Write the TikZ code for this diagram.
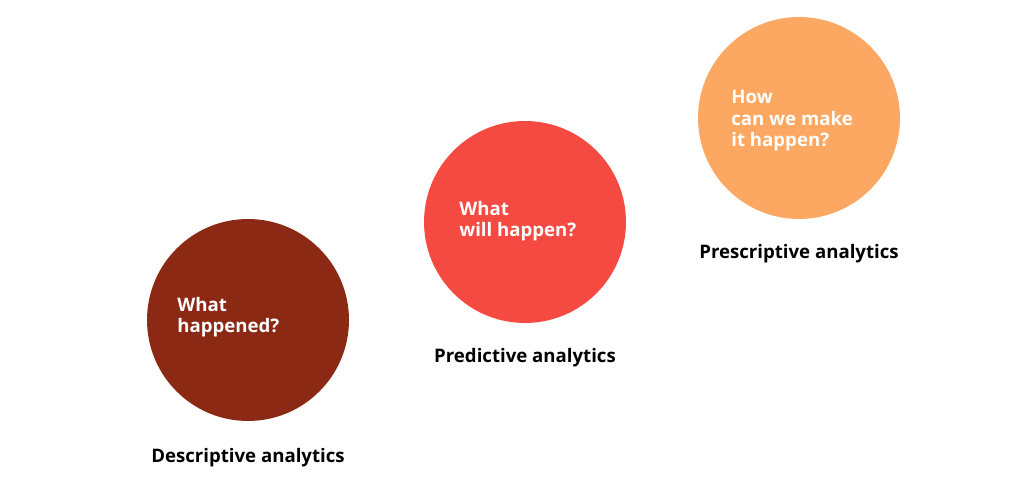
\documentclass[tikz,border=0pt]{standalone}
\usepackage{fontspec}
\setmainfont{Open Sans}
\usetikzlibrary{positioning}
\definecolor{descColor}{HTML}{8B2914}
\definecolor{predColor}{HTML}{F44A42}
\definecolor{prescColor}{HTML}{FDA862}
\begin{document}
\begin{tikzpicture}[x=0.02cm,y=-0.02cm,
    stage/.style={circle,minimum size=4.04cm,inner sep=0pt},
    question/.style={anchor=north west,align=left,text=white,font=\bfseries\fontsize{10.6}{12.2}\selectfont,inner sep=0pt},
    caption/.style={font=\bfseries\fontsize{10.6}{12.2}\selectfont,inner sep=0pt}]
    \useasboundingbox (0,0) rectangle (1024,492);
    \node[stage,fill=descColor] (desc) at (248,320) {};
    \node[stage,fill=predColor] (pred) at (525,222) {};
    \node[stage,fill=prescColor] (presc) at (799,118) {};
    \node[question] (descQ) at (177,297) {What\\happened?};
    \node[question] (predQ) at (459,201) {What\\will happen?};
    \node[question] (prescQ) at (731,90) {How\\can we make\\it happen?};
    \node[caption] (descL) at (248,458) {Descriptive analytics};
    \node[caption] (predL) at (525,358) {Predictive analytics};
    \node[caption] (prescL) at (799,254) {Prescriptive analytics};
\end{tikzpicture}
\end{document}
